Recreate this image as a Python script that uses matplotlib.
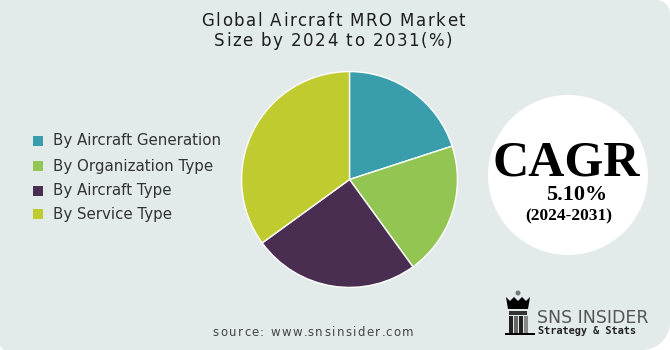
import numpy as np
import matplotlib

matplotlib.use("Agg")
import matplotlib.pyplot as plt
from matplotlib.patches import Circle, PathPatch, Polygon, Rectangle
from matplotlib.path import Path

# Segment shares (%)
segments = ["By Aircraft Generation", "By Organization Type", "By Aircraft Type", "By Service Type"]
shares = [20, 20, 25, 35]
colors = ["#3A9DAB", "#92C552", "#4A2E52", "#C0CB30"]

title_lines = ["Global Aircraft MRO Market", "Size by 2024 to 2031(%)"]
cagr_value = "5.10%"
cagr_period = "(2024-2031)"
source = "source: www.snsinsider.com"

W, H = 670, 350
BG = "#E2EAEA"


def rounded_panel(w, h, r_tl, r_tr, r_br, r_bl):
    # corner arcs in pixel space (y grows downward)
    pts = []

    def arc(cx, cy, r, a0, a1):
        t = np.linspace(np.radians(a0), np.radians(a1), 20)
        return list(zip(cx + r * np.cos(t), cy + r * np.sin(t)))

    pts += [(0, 0)] if r_tl == 0 else arc(r_tl, r_tl, r_tl, 180, 270)
    pts += arc(w - r_tr, r_tr, r_tr, 270, 360)
    pts += arc(w - r_br, h - r_br, r_br, 0, 90)
    pts += arc(r_bl, h - r_bl, r_bl, 90, 180)
    pts.append(pts[0])
    codes = [Path.MOVETO] + [Path.LINETO] * (len(pts) - 2) + [Path.CLOSEPOLY]
    return Path(pts, codes)


def tracked_text(ax, x, y, s, tracking, **kw):
    """Centered text with extra space (pixels) between letters."""
    renderer = ax.figure.canvas.get_renderer()

    def width(part):
        if not part:
            return 0.0
        t = ax.text(0, 0, part.replace(" ", "\u00a0"), **kw)
        w = t.get_window_extent(renderer).width
        t.remove()
        return w

    total = width(s) + tracking * (len(s) - 1)
    x0 = x - total / 2
    for i, ch in enumerate(s):
        if ch == " ":
            continue
        ax.text(x0 + width(s[:i]) + i * tracking, y, ch, ha="left", va="center", **kw)


fig = plt.figure(figsize=(W / 100, H / 100), dpi=100)
fig.patch.set_facecolor("white")

base = fig.add_axes([0, 0, 1, 1])
base.set_xlim(0, W)
base.set_ylim(H, 0)
base.axis("off")

base.add_patch(PathPatch(rounded_panel(W, H, 0, 14, 28, 6), facecolor=BG, edgecolor="none"))

for line, y in zip(title_lines, [21, 41]):
    tracked_text(base, 333, y, line, 1.5, fontsize=12, color="#1E1E1E", family="DejaVu Sans")

# legend
legend_y = [141, 166, 191, 214]
for label, color, y in zip(segments, colors, legend_y):
    base.add_patch(Rectangle((33, y - 5), 10, 10, facecolor=color, edgecolor="none"))
    base.text(53, y, label, ha="left", va="center", fontsize=10.8, color="#333333",
              family="DejaVu Sans")

# CAGR badge
base.add_patch(Circle((568, 175), 80, facecolor="white", edgecolor="none"))
base.text(566, 163, "CAGR", ha="center", va="center", fontsize=36, fontweight="bold",
          family="Liberation Serif", color="black")
base.text(577, 195, cagr_value, ha="center", va="center", fontsize=16, fontweight="bold",
          family="Liberation Serif", color="black")
base.text(569, 216, cagr_period, ha="center", va="center", fontsize=12.5, fontweight="bold",
          family="Liberation Serif", color="black")

tracked_text(base, 313, 332, source, 1.4, fontsize=8.5, color="#444444", family="DejaVu Sans")

# logo mark
base.add_patch(Circle((518, 293), 2.5, facecolor="#777777", edgecolor="none"))
base.add_patch(Polygon([(506, 297), (510, 301), (514, 297), (518, 301), (522, 297),
                        (526, 301), (530, 297), (528, 309), (508, 309)],
                       facecolor="black", edgecolor="none"))
base.add_patch(Rectangle((509, 311), 18, 4, facecolor="#333333", edgecolor="none"))
for x0, c in [(509, "#222222"), (514, "#666666"), (519, "#222222"), (524, "#888888")]:
    base.add_patch(Rectangle((x0, 316), 3.5, 17, facecolor=c, edgecolor="none"))
base.add_patch(Rectangle((505, 333), 30, 2, facecolor="black", edgecolor="none"))
base.text(537, 318, "SNS INSIDER", ha="left", va="center", fontsize=12.5, color="#555555",
          family="DejaVu Sans")
base.text(538, 331, "Strategy & Stats", ha="left", va="center", fontsize=7.4,
          fontweight="bold", color="#222222", family="DejaVu Sans Mono")

# pie
cx, cy, r = 349.5, 179.5, 109
pie_ax = fig.add_axes([(cx - r) / W, (H - cy - r) / H, 2 * r / W, 2 * r / H])
pie_ax.pie(shares, colors=colors, startangle=90, counterclock=False,
           wedgeprops={"edgecolor": "white", "linewidth": 1.0})
pie_ax.set_xlim(-1.01, 1.01)
pie_ax.set_ylim(-1.01, 1.01)
pie_ax.set_aspect("equal")
pie_ax.axis("off")

fig.savefig("out.png", dpi=100, facecolor=fig.get_facecolor())
